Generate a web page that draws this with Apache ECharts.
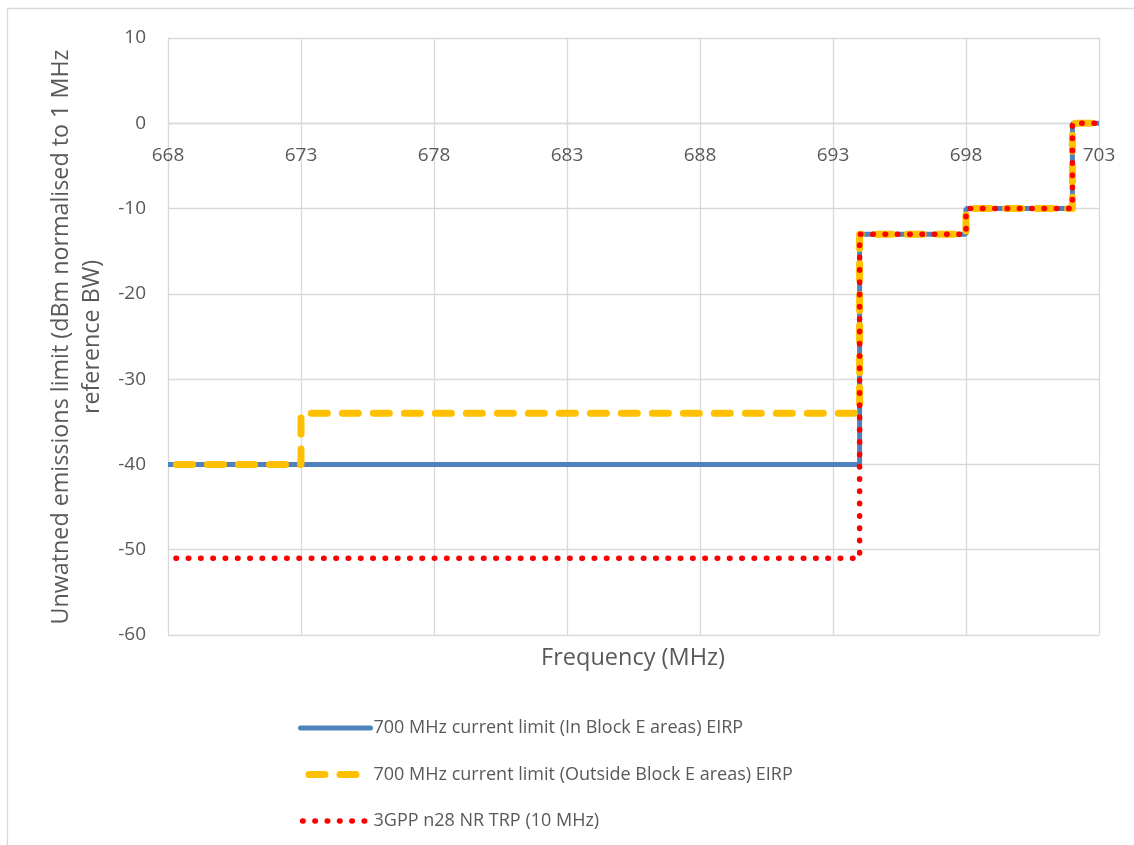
<!DOCTYPE html>
<html>
<head>
<meta charset="utf-8">
<script src="https://cdn.jsdelivr.net/npm/echarts@6/dist/echarts.min.js"></script>
<style>
html,body{margin:0;padding:0;background:#fff;}
#chart{width:1134px;height:845px;}
</style>
</head>
<body>
<div id="chart"></div>
<script>
// Data (frequency in MHz, limit in dBm/MHz) - step shapes as vertices
const seriesNames = [
  '700 MHz current limit (In Block E areas) EIRP',
  '700 MHz current limit (Outside Block E areas) EIRP',
  '3GPP n28 NR TRP (10 MHz)'
];
const inBlockFreq   = [668, 694, 694, 698, 698, 702, 702, 703];
const inBlockVal    = [-40, -40, -13, -13, -10, -10, 0, 0];
const outBlockFreq  = [668, 673, 673, 694, 694, 698, 698, 702, 702, 703];
const outBlockVal   = [-40, -40, -34, -34, -13, -13, -10, -10, 0, 0];
const nrFreq        = [668.3, 694, 694, 698, 698, 702, 702, 703];
const nrVal         = [-51, -51, -13, -13, -10, -10, 0, 0];
const xTicks = [668, 673, 678, 683, 688, 693, 698, 703];
const yTicks = [-60, -50, -40, -30, -20, -10, 0, 10];

const zip = (a, b) => a.map((v, i) => [v, b[i]]);
const FONT = 'Open Sans';
const TXT = '#595959';
const GRID = '#d9d9d9';

const GRID_TOP = 38, GRID_BOTTOM = 210, H = 845;
const plotH = H - GRID_TOP - GRID_BOTTOM;
const yMin = yTicks[0], yMax = yTicks[yTicks.length - 1];
// distance from plot bottom to the y=0 line (x axis crosses at 0)
const zeroOffset = plotH * (0 - yMin) / (yMax - yMin);

const chart = echarts.init(document.getElementById('chart'));
chart.setOption({
  animation: false,
  backgroundColor: '#ffffff',
  textStyle: { fontFamily: FONT, color: TXT },
  grid: { left: 168, right: 35, top: GRID_TOP, bottom: GRID_BOTTOM, containLabel: false },
  xAxis: {
    type: 'value',
    min: xTicks[0], max: xTicks[xTicks.length - 1], interval: 5,
    offset: -zeroOffset,
    axisLine: { onZero: false, lineStyle: { color: GRID, width: 1.3 } },
    axisTick: { show: false },
    axisLabel: { color: TXT, fontSize: 19, fontFamily: FONT, margin: 23, showMinLabel: true, showMaxLabel: true },
    splitLine: { show: true, lineStyle: { color: GRID, width: 1.3 } }
  },
  yAxis: {
    type: 'value',
    min: yMin, max: yMax, interval: 10,
    axisLine: { show: false },
    axisTick: { show: false },
    axisLabel: { color: TXT, fontSize: 19, fontFamily: FONT, margin: 22 },
    splitLine: { show: true, lineStyle: { color: GRID, width: 1.3 } }
  },
  legend: {
    orient: 'vertical',
    left: 297, top: 719, padding: 0,
    itemWidth: 70, itemHeight: 14, itemGap: 28.5,
    itemStyle: { opacity: 0 },
    textStyle: { color: TXT, fontSize: 18, fontFamily: FONT, padding: [0, 0, 0, -2] },
    data: [
      { name: seriesNames[0], lineStyle: { width: 5, color: '#4F81BD', cap: 'round' } },
      { name: seriesNames[1], lineStyle: { width: 7, color: '#FFC000', type: [16, 15], cap: 'round' } },
      { name: seriesNames[2], lineStyle: { width: 5.5, color: '#FF0000', type: [0.5, 11.8], cap: 'round' } }
    ]
  },
  graphic: [
    { type: 'rect', silent: true, z: -10, shape: { x: 7.5, y: 8.5, width: 1300, height: 1000 },
      style: { fill: 'none', stroke: '#d9d9d9', lineWidth: 1.3 } },
    { type: 'text', silent: true, x: 633, y: 658,
      style: { text: 'Frequency (MHz)', fill: TXT, fontSize: 23.5, fontFamily: FONT, textAlign: 'center', textVerticalAlign: 'middle' } },
    { type: 'text', silent: true, x: 77, y: 337, rotation: Math.PI / 2,
      style: { text: 'Unwatned emissions limit (dBm normalised to 1 MHz\nreference BW)', fill: TXT, fontSize: 23.3, fontFamily: FONT,
               textAlign: 'center', textVerticalAlign: 'middle', lineHeight: 31 } }
  ],
  series: [
    { name: seriesNames[0], type: 'line', data: zip(inBlockFreq, inBlockVal), showSymbol: false, symbol: 'none',
      color: '#4F81BD', lineStyle: { color: '#4F81BD', width: 5 }, z: 2 },
    { name: seriesNames[1], type: 'line', data: zip(outBlockFreq, outBlockVal), showSymbol: false, symbol: 'none',
      color: '#FFC000', lineStyle: { color: '#FFC000', width: 7, type: [16, 15], dashOffset: 22.5, cap: 'round', join: 'round' }, z: 3 },
    { name: seriesNames[2], type: 'line', data: zip(nrFreq, nrVal), showSymbol: false, symbol: 'none',
      color: '#FF0000', lineStyle: { color: '#FF0000', width: 5.5, type: [0.5, 11.8], cap: 'round' }, z: 4 }
  ]
});
</script>
</body>
</html>
